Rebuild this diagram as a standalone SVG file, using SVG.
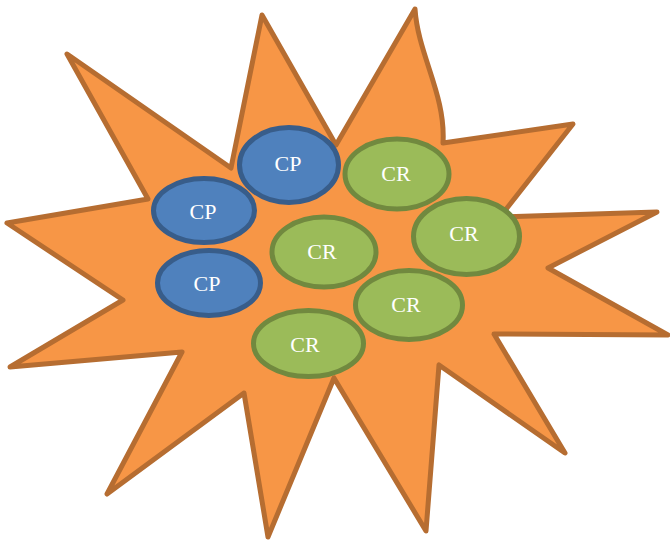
<svg xmlns="http://www.w3.org/2000/svg" width="670" height="541" viewBox="0 0 670 541">
<style>
.star{fill:#F79646;stroke:#B66D31;stroke-width:5;stroke-linejoin:round}
.cp{fill:#4F81BD;stroke:#385D8A;stroke-width:5}
.cr{fill:#9BBB59;stroke:#71893F;stroke-width:5}
.t{fill:#FFFFFF;font-family:"Liberation Serif","Times New Roman",serif;font-size:22px;text-anchor:middle}
</style>
<rect width="670" height="541" fill="#FFFFFF"/>
<g id="star">
<path class="star" d="M67,54 L231,168 L262,15 L336,145 L415,9 C418,55 446,95 443,143 L573,124 L500,217 L657,212 L548,268 L668,335 L494,334 L565,453 L439,365 L426,531 L334,378 L268,537 L244,393 L107,494 L182,352 L10,367 L123,300 L7,223 L148,199 Z"/>
</g>
<g id="cp1"><ellipse class="cp" cx="289" cy="165" rx="49.5" ry="37.5"/><text class="t" x="288" y="171">CP</text></g>
<g id="cp2"><ellipse class="cp" cx="204" cy="210.5" rx="50.5" ry="32"/><text class="t" x="203" y="219">CP</text></g>
<g id="cp3"><ellipse class="cp" cx="209" cy="283" rx="51.5" ry="32.5"/><text class="t" x="207" y="291">CP</text></g>
<g id="cr1"><ellipse class="cr" cx="397" cy="174" rx="52" ry="35"/><text class="t" x="396" y="181">CR</text></g>
<g id="cr2"><ellipse class="cr" cx="466.5" cy="236.5" rx="53" ry="38"/><text class="t" x="464" y="241">CR</text></g>
<g id="cr3"><ellipse class="cr" cx="324" cy="252" rx="52" ry="35"/><text class="t" x="322" y="259">CR</text></g>
<g id="cr4"><ellipse class="cr" cx="409" cy="305" rx="53.5" ry="34.5"/><text class="t" x="406" y="312">CR</text></g>
<g id="cr5"><ellipse class="cr" cx="308.5" cy="343.5" rx="55" ry="33"/><text class="t" x="305" y="352">CR</text></g>
</svg>
